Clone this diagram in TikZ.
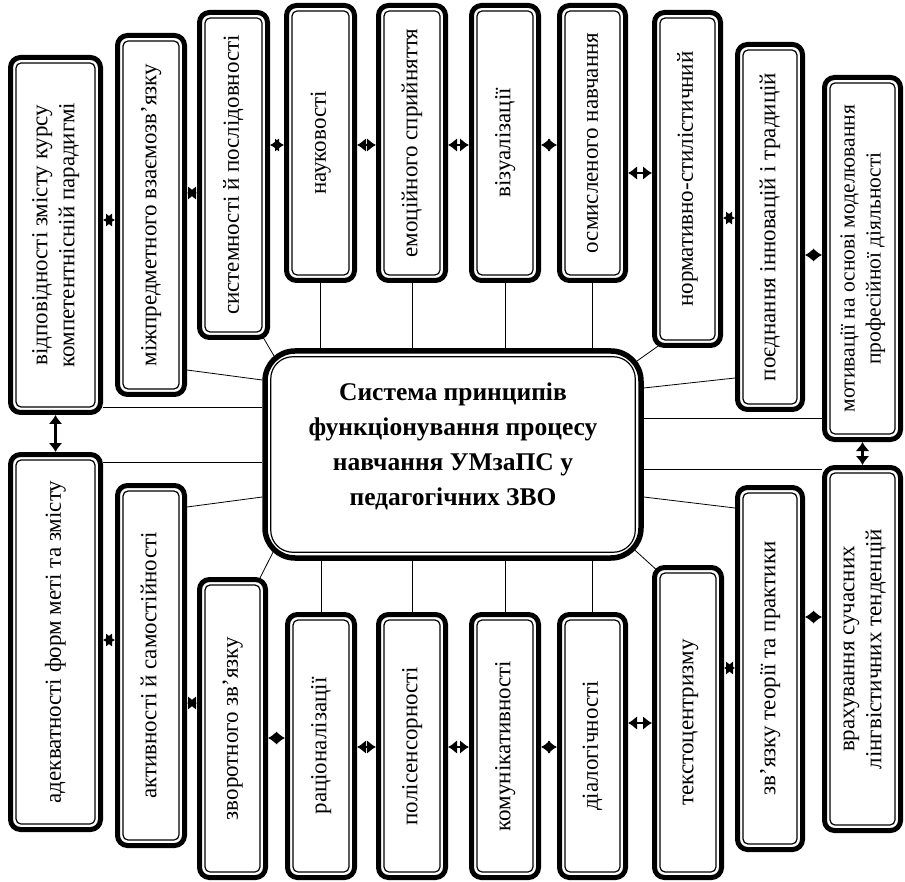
\documentclass[tikz,border=0pt]{standalone}
\usepackage{graphicx}
\usepackage{fontspec}
\setmainfont{Liberation Serif}
\usetikzlibrary{arrows.meta,backgrounds}

% vertical (bottom-to-top) multi-line label
\newcommand\vtext[1]{\rotatebox{90}{\begin{tabular}{@{}c@{}}#1\end{tabular}}}
% principle box given by its outer extent: name, left, top, right, bottom, text
\newcommand\pbox[7][]{\node[pbox, #1, minimum width={#5-#3-5}, minimum height={#6-#4-5}]
  (#2) at ({(#3+#5)/2},{(#4+#6)/2}) {\vtext{#7}};}

\tikzset{
  pbox/.style={draw, line width=5pt, rounded corners=10pt, fill=white,
    inner sep=0pt, font=\fontsize{23}{27}\selectfont},
  smalltext/.style={font=\fontsize{21.5}{26}\selectfont},
  hub/.style={draw, line width=5.5pt, rounded corners=30pt, fill=white,
    inner sep=0pt, font=\fontsize{25.5}{35}\selectfont\bfseries},
  innerline/.style={line width=1.2pt, rounded corners=5pt},
  link/.style={line width=0.8pt},
  darrow/.style={line width=2.4pt,
    {Latex[length=9pt,width=14pt]}-{Latex[length=9pt,width=14pt]}},
}

\begin{document}
\begin{tikzpicture}[x=1pt,y=-1pt]
\useasboundingbox (0,0) rectangle (905,882);

% central node
\node[hub, minimum width=376, minimum height=207] (Center) at (453,454.5)
  {\begin{tabular}{@{}c@{}}Система принципів\\функціонування процесу\\навчання УМзаПС у\\педагогічних ЗВО\rule[-28pt]{0pt}{0pt}\end{tabular}};

% upper row
\pbox{A}{8}{55}{103}{415}{відповідності змісту курсу\\компетентнісній парадигмі}
\pbox{B}{115}{33}{187}{397}{міжпредметного взаємозв’язку}
\pbox{C}{197}{10}{270}{340}{системності й послідовності}
\pbox{D}{284}{3}{357}{283}{науковості}
\pbox{E}{376}{3}{448}{283}{емоційного сприйняття}
\pbox{F}{469}{3}{541}{283}{візуалізації}
\pbox{G}{557}{3}{628}{283}{осмисленого навчання}
\pbox{H}{652}{10}{723}{348}{нормативно-стилістичний}
\pbox{I}{735}{42}{805}{412}{поєднання інновацій і традицій}
\pbox[smalltext]{J}{822}{75}{903}{442}{мотивації на основі моделювання\\професійної діяльності}

% lower row
\pbox{K}{8}{452}{103}{832}{адекватності форм меті та змісту}
\pbox{L}{115}{483}{187}{848}{активності й самостійності}
\pbox{M}{197}{577}{268}{880}{зворотного зв’язку}
\pbox{N}{285}{612}{357}{880}{раціоналізації}
\pbox{O}{376}{612}{448}{880}{полісенсорності}
\pbox{P}{469}{612}{541}{880}{комунікативності}
\pbox{Q}{557}{612}{628}{880}{діалогічності}
\pbox{R}{652}{565}{724}{880}{текстоцентризму}
\pbox{S}{735}{485}{805}{852}{зв’язку теорії та практики}
\pbox{T}{822}{465}{903}{833}{врахування сучасних\\лінгвістичних тенденцій}

% thin inner outlines
\foreach \n in {A,B,C,D,E,F,G,H,I,J,K,L,M,N,O,P,Q,R,S,T}
  \draw[innerline] ([shift={(8pt,8pt)}]\n.south west) rectangle ([shift={(-8pt,-8pt)}]\n.north east);
\draw[line width=1.2pt, rounded corners=22pt]
  ([shift={(8.5pt,8.5pt)}]Center.south west) rectangle ([shift={(-8.5pt,-8.5pt)}]Center.north east);

% spokes from the hub
\begin{scope}[on background layer]
  \draw[link] (A.east |- 0,407) -- (Center.west |- 0,407);
  \draw[link] (B.east |- 0,370) -- (Center.west |- 0,380);
  \draw[link] ([shift={(-10pt,8pt)}]C.south east) -- ([shift={(19pt,-20pt)}]Center.north west);
  \foreach \n in {D,E,F,G} \draw[link] (\n.south) -- (\n.south |- Center.north);
  \draw[link] ([shift={(9pt,4pt)}]H.south west) -- ([shift={(-17pt,-20pt)}]Center.north east);
  \draw[link] (I.west |- 0,378) -- (Center.east |- 0,388);
  \draw[link] (J.west |- 0,418) -- (Center.east |- 0,418);
  \draw[link] (K.east |- 0,462) -- (Center.west |- 0,462);
  \draw[link] (L.east |- 0,507) -- (Center.west |- 0,497);
  \draw[link] ([shift={(-10pt,-5pt)}]M.north east) -- ([shift={(16pt,19pt)}]Center.south west);
  \foreach \n in {N,O,P,Q} \draw[link] (\n.north) -- (\n.north |- Center.south);
  \draw[link] ([shift={(8pt,-8pt)}]R.north west) -- ([shift={(-17pt,18pt)}]Center.south east);
  \draw[link] (S.west |- 0,508) -- (Center.east |- 0,497);
  \draw[link] (T.west |- 0,469) -- (Center.east |- 0,469);
\end{scope}

% two-way links between neighbouring boxes
\draw[darrow] (A.east |- 0,220) -- (B.west |- 0,220);
\draw[darrow] (B.east |- 0,193) -- (C.west |- 0,193);
\draw[darrow] (C.east |- 0,145) -- (D.west |- 0,145);
\draw[darrow] (D.east |- 0,145) -- (E.west |- 0,145);
\draw[darrow] (E.east |- 0,145) -- (F.west |- 0,145);
\draw[darrow] (F.east |- 0,145) -- (G.west |- 0,145);
\draw[darrow] (G.east |- 0,173) -- (H.west |- 0,173);
\draw[darrow] (H.east |- 0,218) -- (I.west |- 0,218);
\draw[darrow] (I.east |- 0,255) -- (J.west |- 0,255);
\draw[darrow] (A.south) -- (K.north);
\draw[darrow] (J.south) -- (T.north);
\draw[darrow] (K.east |- 0,640) -- (L.west |- 0,640);
\draw[darrow] (L.east |- 0,703) -- (M.west |- 0,703);
\draw[darrow] (M.east |- 0,738) -- (N.west |- 0,738);
\draw[darrow] (N.east |- 0,747) -- (O.west |- 0,747);
\draw[darrow] (O.east |- 0,747) -- (P.west |- 0,747);
\draw[darrow] (P.east |- 0,747) -- (Q.west |- 0,747);
\draw[darrow] (Q.east |- 0,723) -- (R.west |- 0,723);
\draw[darrow] (R.east |- 0,668) -- (S.west |- 0,668);
\draw[darrow] (S.east |- 0,617) -- (T.west |- 0,617);
\end{tikzpicture}
\end{document}
